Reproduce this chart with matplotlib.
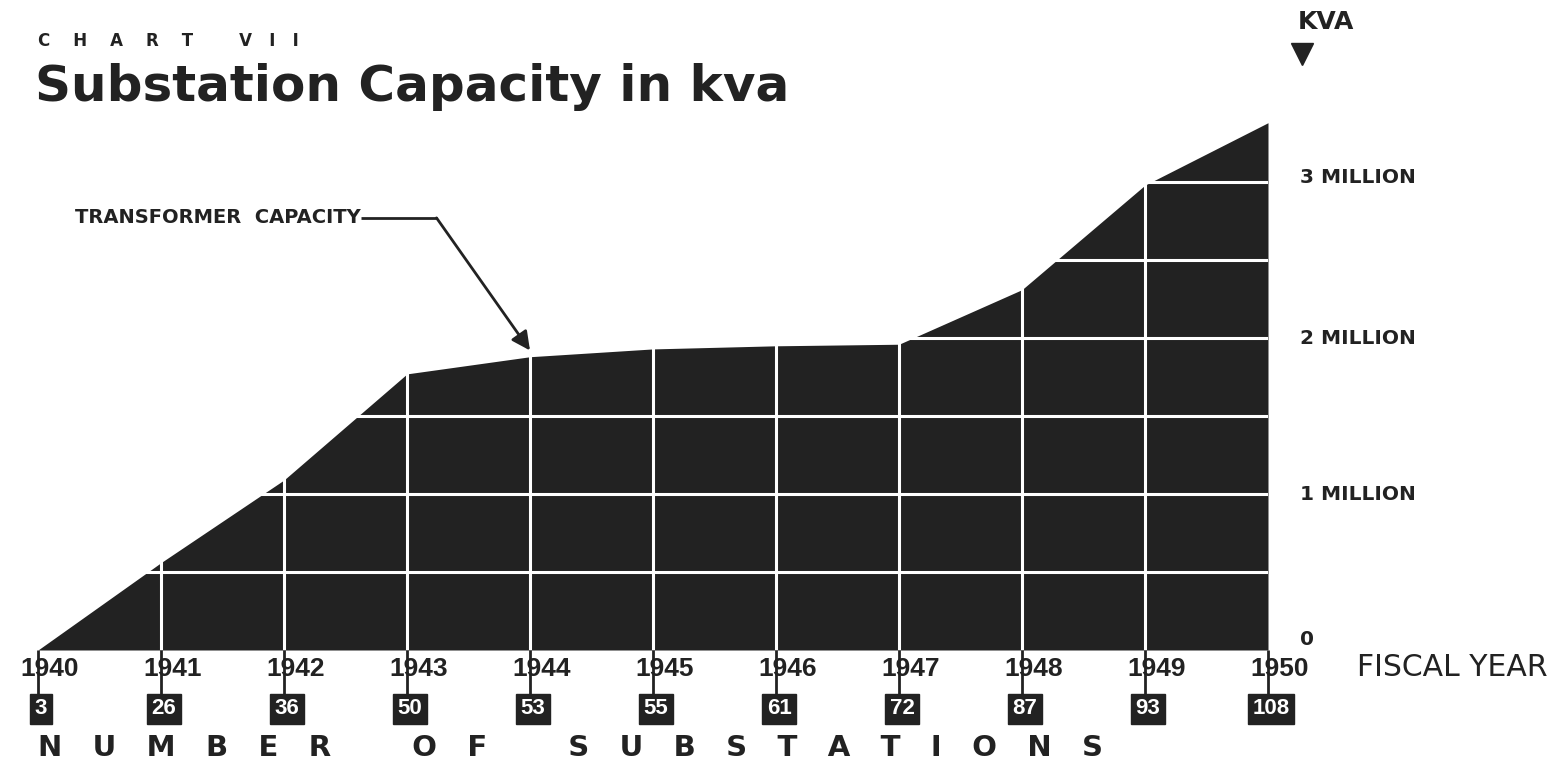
import matplotlib
matplotlib.use('Agg')
import matplotlib.pyplot as plt

# data
years = [1940, 1941, 1942, 1943, 1944, 1945, 1946, 1947, 1948, 1949, 1950]
capacity_mkva = [0.0, 0.56, 1.09, 1.77, 1.88, 1.93, 1.95, 1.96, 2.31, 2.98, 3.38]
substations = [3, 26, 36, 50, 53, 55, 61, 72, 87, 93, 108]
kva_ticks = [0, 1, 2, 3]
kva_labels = ['0', '1 MILLION', '2 MILLION', '3 MILLION']
grid_levels = [0.5, 1.0, 1.5, 2.0, 2.5, 3.0]

INK = '#222222'
plt.rcParams['font.family'] = ['DejaVu Sans']


def spaced(words, inner, outer):
    # spread capitals out like the old printed lettering
    return (' ' * outer).join((' ' * inner).join(w) for w in words)


fig = plt.figure(figsize=(15.68, 7.66), dpi=100)
# axes box in pixels: x 38..1268, y 650 (zero) .. 104
ax = fig.add_axes([38 / 1568, 116 / 766, 1230 / 1568, 546 / 766])
ax.set_xlim(years[0], years[-1])
ax.set_ylim(0, 3.5)
ax.axis('off')

# filled area
ax.fill_between(years, capacity_mkva, color=INK, lw=0, zorder=1)

# white grid inside the black area
for g in grid_levels:
    ax.axhline(g, color='white', lw=2.2, zorder=2)
for yr in years[1:-1]:
    ax.axvline(yr, color='white', lw=2.2, zorder=2)

# stubs from the base line down to the boxes
ax.vlines(years, -0.28, 0, colors=INK, lw=2, clip_on=False, zorder=3)

# year labels and substation count boxes
for yr, n in zip(years, substations):
    ax.annotate(str(yr), xy=(yr, 0), xytext=(-18, -19), textcoords='offset pixels',
                ha='left', va='center', fontsize=19, fontweight='bold',
                family='Liberation Sans', color=INK, annotation_clip=False, zorder=2)
    ax.annotate(str(n), xy=(yr, 0), xytext=(3, -59), textcoords='offset pixels',
                ha='center', va='center', fontsize=16, fontweight='bold',
                family='Liberation Sans', color='white', annotation_clip=False,
                bbox=dict(boxstyle='square,pad=0.22', fc=INK, ec=INK), zorder=4)

# right-hand scale
for v, lab in zip(kva_ticks, kva_labels):
    dy = 0.07 if v == 0 else (0.03 if v == 3 else 0.0)
    ax.text(1950.26, v + dy, lab, ha='left', va='center', fontsize=14.5,
            fontweight='bold', color=INK, clip_on=False)

fig.text(1298 / 1568, 1 - 22 / 766, 'KVA', ha='left', va='center', fontsize=18,
         fontweight='bold', color=INK)
fig.lines.append(plt.Line2D([1302 / 1568], [1 - 54 / 766], marker='v', markersize=16,
                            color=INK, transform=fig.transFigure))

fig.text(1357 / 1568, 1 - 668 / 766, 'FISCAL YEAR', ha='left', va='center',
         fontsize=21.5, color=INK)

# titles
fig.text(38 / 1568, 1 - 41 / 766, 'C    H    A    R    T        V   I   I',
         ha='left', va='center', fontsize=12, fontweight='bold', color=INK)
fig.text(35 / 1568, 1 - 87 / 766, 'Substation Capacity in kva', ha='left',
         va='center', fontsize=36, fontweight='heavy', color=INK)

fig.text(38 / 1568, 1 - 748 / 766,
         spaced(['NUMBER', 'OF', 'SUBSTATIONS'], 3, 8),
         ha='left', va='center', fontsize=21, fontweight='bold', color=INK)

# annotation for the area
ax.text(1942.62, 2.77, 'TRANSFORMER  CAPACITY', ha='right', va='center',
        fontsize=14, fontweight='bold', color=INK)
ax.plot([1942.63, 1943.24], [2.77, 2.77], color=INK, lw=2, solid_capstyle='butt')
ax.annotate('', xy=(1944.0, 1.92), xytext=(1943.24, 2.77),
            arrowprops=dict(arrowstyle='-|>', lw=2, color=INK, mutation_scale=28,
                            shrinkA=0, shrinkB=0))

fig.savefig('out.png', dpi=100, facecolor='white')
